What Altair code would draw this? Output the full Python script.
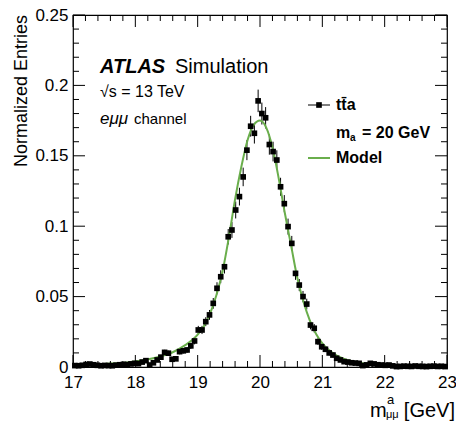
import altair as alt
import pandas as pd

# ---- simulated signal: binned m_mumu distribution (bin width 0.06 GeV) ----
bin_centres = [
    17.03, 17.09, 17.15, 17.21, 17.27, 17.33, 17.39, 17.45, 17.51, 17.57,
    17.63, 17.69, 17.75, 17.81, 17.87, 17.93, 17.99, 18.05, 18.11, 18.17,
    18.23, 18.29, 18.35, 18.41, 18.47, 18.53, 18.59, 18.65, 18.71, 18.77,
    18.83, 18.89, 18.95, 19.01, 19.07, 19.13, 19.19, 19.25, 19.31, 19.37,
    19.43, 19.49, 19.55, 19.61, 19.67, 19.73, 19.79, 19.85, 19.91, 19.97,
    20.03, 20.09, 20.15, 20.21, 20.27, 20.33, 20.39, 20.45, 20.51, 20.57,
    20.63, 20.69, 20.75, 20.81, 20.87, 20.93, 20.99, 21.05, 21.11, 21.17,
    21.23, 21.29, 21.35, 21.41, 21.47, 21.53, 21.59, 21.65, 21.71, 21.77,
    21.83, 21.89, 21.95, 22.01, 22.07, 22.13, 22.19, 22.25, 22.31, 22.37,
    22.43, 22.49, 22.55, 22.61, 22.67, 22.73, 22.79, 22.85, 22.91, 22.97,
]
entries = [
    0.0010, 0.0009, 0.0012, 0.0018, 0.0021, 0.0016, 0.0012, 0.0009, 0.0011, 0.0010,
    0.0009, 0.0013, 0.0016, 0.0019, 0.0017, 0.0022, 0.0026, 0.0024, 0.0035, 0.0045,
    0.0014, 0.0030, 0.0050, 0.0070, 0.0104, 0.0098, 0.0055, 0.0058, 0.0109, 0.0115,
    0.0121, 0.0150, 0.0185, 0.0263, 0.0263, 0.0322, 0.0370, 0.0452, 0.0559, 0.0641,
    0.0712, 0.0925, 0.0973, 0.1115, 0.1210, 0.1350, 0.1540, 0.1710, 0.1660, 0.1890,
    0.1800, 0.1770, 0.1580, 0.1530, 0.1470, 0.1280, 0.1160, 0.0997, 0.0878, 0.0665,
    0.0582, 0.0500, 0.0447, 0.0298, 0.0275, 0.0180, 0.0144, 0.0126, 0.0100, 0.0085,
    0.0062, 0.0050, 0.0038, 0.0035, 0.0030, 0.0028, 0.0026, 0.0010, 0.0015, 0.0026,
    0.0022, 0.0016, 0.0014, 0.0012, 0.0014, 0.0008, 0.0003, 0.0004, 0.0006, 0.0005,
    0.0004, 0.0007, 0.0005, 0.0004, 0.0003, 0.0005, 0.0006, 0.0004, 0.0005, 0.0003,
]
errors = [
    0.0006, 0.0005, 0.0006, 0.0008, 0.0008, 0.0007, 0.0006, 0.0005, 0.0006, 0.0006,
    0.0005, 0.0006, 0.0007, 0.0008, 0.0007, 0.0008, 0.0009, 0.0009, 0.0011, 0.0012,
    0.0007, 0.0010, 0.0013, 0.0015, 0.0018, 0.0018, 0.0013, 0.0014, 0.0019, 0.0019,
    0.0020, 0.0022, 0.0024, 0.0029, 0.0029, 0.0032, 0.0035, 0.0038, 0.0043, 0.0046,
    0.0048, 0.0055, 0.0056, 0.0060, 0.0063, 0.0066, 0.0071, 0.0074, 0.0073, 0.0080,
    0.0078, 0.0076, 0.0072, 0.0070, 0.0069, 0.0064, 0.0061, 0.0057, 0.0053, 0.0046,
    0.0043, 0.0040, 0.0038, 0.0031, 0.0030, 0.0024, 0.0022, 0.0020, 0.0018, 0.0017,
    0.0014, 0.0013, 0.0011, 0.0011, 0.0010, 0.0010, 0.0009, 0.0006, 0.0007, 0.0009,
    0.0008, 0.0007, 0.0007, 0.0006, 0.0007, 0.0005, 0.0003, 0.0004, 0.0004, 0.0004,
    0.0004, 0.0005, 0.0004, 0.0004, 0.0003, 0.0004, 0.0004, 0.0004, 0.0004, 0.0003,
]

# ---- fitted model curve ----
model_x = [17.0, 17.5, 18.0, 18.4, 18.6, 18.8, 19.0, 19.1, 19.2, 19.3, 19.4, 19.5,
           19.6, 19.7, 19.8, 19.9, 20.0, 20.1, 20.2, 20.3, 20.4, 20.5, 20.6, 20.7,
           20.8, 20.9, 21.0, 21.2, 21.4, 21.6, 21.8, 22.0, 22.5, 23.0]
model_y = [0.0012, 0.0022, 0.0040, 0.0075, 0.0105, 0.0155, 0.0230, 0.0290, 0.0380,
           0.0510, 0.0680, 0.0920, 0.1190, 0.1420, 0.1610, 0.1720, 0.1750, 0.1700,
           0.1560, 0.1340, 0.1090, 0.0860, 0.0630, 0.0460, 0.0330, 0.0235, 0.0168,
           0.0090, 0.0050, 0.0030, 0.0018, 0.0012, 0.0006, 0.0004]

# ---- axis ticks ----
x_major = [17, 18, 19, 20, 21, 22, 23]
x_minor = [round(17 + 0.2 * i, 2) for i in range(31) if i % 5 != 0]
y_major = [0, 0.05, 0.1, 0.15, 0.2, 0.25]
y_minor = [round(0.01 * i, 2) for i in range(26) if i % 5 != 0]

W, H = 374, 352
FONT = "Liberation Sans"
GREEN = "#6aae4c"

xs = alt.Scale(domain=[17, 23], nice=False, zero=False)
ys = alt.Scale(domain=[0, 0.25], nice=False)

pts = pd.DataFrame({"m": bin_centres, "n": entries, "e": errors})
pts["lo"] = pts["n"] - pts["e"]
pts["hi"] = pts["n"] + pts["e"]
model = pd.DataFrame({"m": model_x, "n": model_y})

xaxis = alt.Axis(values=x_major, format="d", tickSize=0, domain=False, grid=False,
                 title=None, labelFontSize=17, labelPadding=7, labelColor="black",
                 labelFont=FONT, labelFlush=False)
yaxis = alt.Axis(values=y_major, tickSize=0, domain=False, grid=False, title=None,
                 format="~g", labelFontSize=17, labelPadding=5, labelColor="black",
                 labelFont=FONT, labelFlush=False)

base = alt.Chart(pts)

err_bars = base.mark_rule(color="black", strokeWidth=1).encode(
    x=alt.X("m:Q", scale=xs, axis=xaxis),
    y=alt.Y("lo:Q", scale=ys, axis=yaxis),
    y2="hi:Q",
)
squares = base.mark_square(color="black", size=32, opacity=1).encode(
    x=alt.X("m:Q", scale=xs),
    y=alt.Y("n:Q", scale=ys),
)
curve = alt.Chart(model).mark_line(color=GREEN, strokeWidth=2,
                                   interpolate="monotone").encode(
    x=alt.X("m:Q", scale=xs),
    y=alt.Y("n:Q", scale=ys),
)


def xticks(vals, length, top):
    df = pd.DataFrame({"v": vals})
    if top:
        y0, y1 = 0, length
    else:
        y0, y1 = H, H - length
    return alt.Chart(df).mark_rule(color="black", strokeWidth=1).encode(
        x=alt.X("v:Q", scale=xs), y=alt.value(y0), y2=alt.value(y1))


def yticks(vals, length, right):
    df = pd.DataFrame({"v": vals})
    if right:
        x0, x1 = W, W - length
    else:
        x0, x1 = 0, length
    return alt.Chart(df).mark_rule(color="black", strokeWidth=1).encode(
        y=alt.Y("v:Q", scale=ys), x=alt.value(x0), x2=alt.value(x1))


ticks = [
    xticks(x_major, 12, False), xticks(x_minor, 6, False),
    xticks(x_major, 12, True), xticks(x_minor, 6, True),
    yticks(y_major, 12, False), yticks(y_minor, 6, False),
    yticks(y_major, 12, True), yticks(y_minor, 6, True),
]


def label(text, x, y, size=15, weight="normal", style="normal", align="left",
          angle=0, color="black"):
    return alt.Chart(pd.DataFrame({"t": [text]})).mark_text(
        align=align, baseline="alphabetic", font=FONT, fontSize=size,
        fontWeight=weight, fontStyle=style, angle=angle, color=color,
    ).encode(x=alt.value(x), y=alt.value(y), text="t:N")


annotations = [
    label("ATLAS", 27, 58, size=20, weight="bold", style="italic"),
    label("Simulation", 102, 58, size=20),
    label("\u221as = 13 TeV", 27, 82, size=16),
    label("e\u03bc\u03bc", 27, 109, size=17, style="italic"),
    label("channel", 61, 109, size=15),
    # legend
    label("t\u0074\u0304a", 263, 95, size=16, weight="bold"),
    label("m", 263, 123, size=16, weight="bold"),
    label("a", 277, 126, size=10, weight="bold"),
    label("= 20 GeV", 289, 123, size=16, weight="bold"),
    label("Model", 263, 148, size=16, weight="bold"),
    # axis titles
    label("Normalized Entries", -46, 0, size=18, align="right", angle=270),
    label("m", 297, 402, size=20),
    label("a", 314, 389, size=13),
    label("\u03bc\u03bc", 313, 403, size=11),
    label("[GeV]", 382, 402, size=20, align="right"),
]

legend_marks = [
    alt.Chart(pd.DataFrame({"k": [1]})).mark_rule(color="black", strokeWidth=1).encode(
        x=alt.value(235), x2=alt.value(257), y=alt.value(90)),
    alt.Chart(pd.DataFrame({"k": [1]})).mark_square(color="black", size=32, opacity=1).encode(
        x=alt.value(246), y=alt.value(90)),
    alt.Chart(pd.DataFrame({"k": [1]})).mark_rule(color=GREEN, strokeWidth=2).encode(
        x=alt.value(235), x2=alt.value(257), y=alt.value(143)),
]

chart = alt.layer(
    err_bars, curve, squares, *ticks, *annotations, *legend_marks
).properties(
    width=W, height=H,
    padding={"left": 73, "top": 15, "right": 9, "bottom": 55},
    autosize=alt.AutoSizeParams(type="none"),
    background="white",
).configure_view(
    stroke="black", strokeWidth=1.2, clip=False
)

chart.save("out.html", embed_options={"renderer": "svg", "actions": False})
